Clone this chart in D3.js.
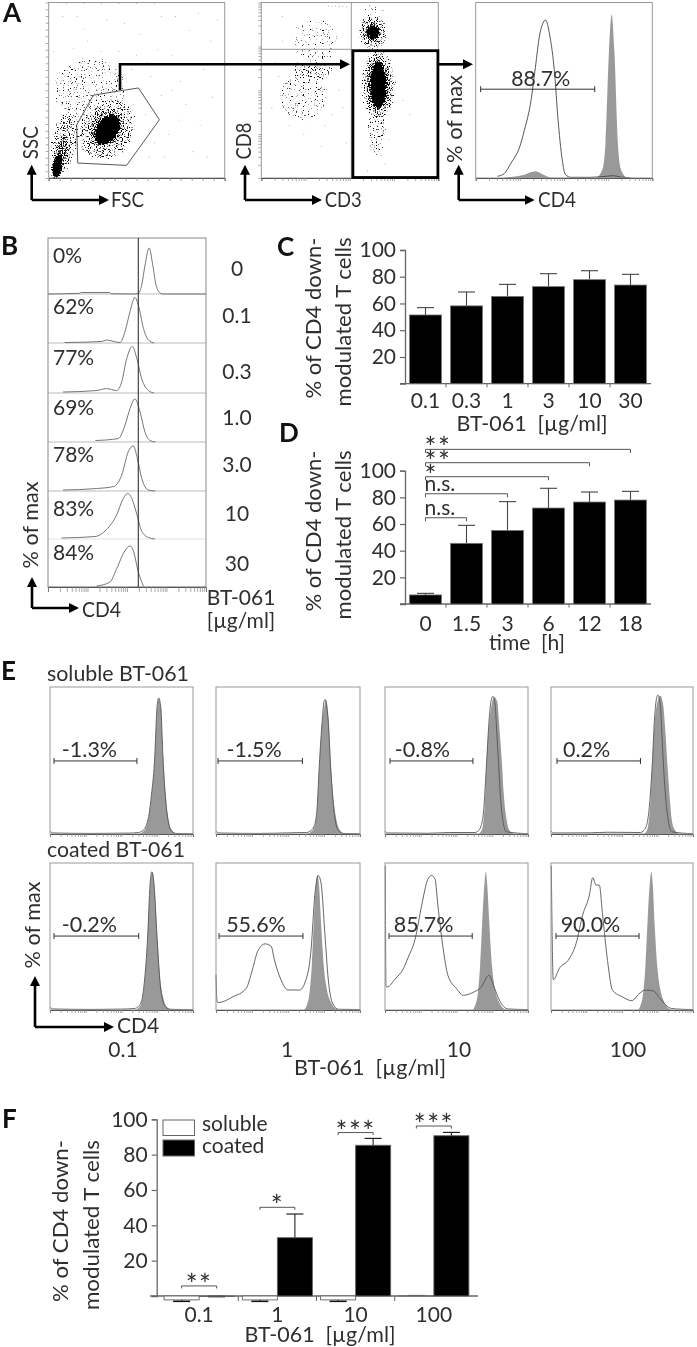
<!DOCTYPE html>
<html><head><meta charset="utf-8">
<script src="https://cdn.jsdelivr.net/npm/d3@7"></script>
<style>html,body{margin:0;background:#fff}svg{display:block}</style></head>
<body><script>
// ---------- bar data ----------
const doseC = ['0.1','0.3','1','3','10','30'];
const meanC = [51.4,58.2,65.3,72.6,77.8,73.8];
const topC  = [56.9,68.6,74.3,82.3,84.5,81.8];
const timeD = ['0','1.5','3','6','12','18'];
const meanD = [6.8,45.5,55.2,72,76.5,78];
const topD  = [8,59,76.8,86.8,84,84.5];
const bracketD = [[1,64.7,'n.s.'],[2,82.7,'n.s.'],[3,95.5,'*'],[4,106,'**'],[5,116,'**']];
const doseF = ['0.1','1','10','100'];
const solubleF = [-2.2,-2.2,-2.2,0.2];
const solubleErr = [-3,-3,-3,0.3];
const coatedF = [-0.2,33,85.3,90.7];
const coatedErr = [-0.3,46.4,89.2,92.6];
const bracketF = [[5.7,'**'],[50.2,'*'],[92.5,'***'],[96.2,'***']];
const yTicks = [20,40,60,80,100];
// ---------- panel A ----------
const gatePolygon = [[25.4,47.2],[40,49.6],[51,51.3],[62.9,33.2],[44.3,7.2],[16.5,8.5],[15.9,30.2]];
// cloud outlines [x%, y%, rx, ry, tilt, density]
const cloudsFSC = [[24,50,22,20,0,.36],[33,28,16,20,30,.43],[33,28,11,13,35,.52],[33.3,27.5,6.5,10,35,1],[9,20,8.5,19,10,.44],[7,14,5,13,12,.55],[5,7,3,8,10,1]];
const cloudsCD3 = [[63,83,9,11,0,.45],[63,83,6,7,0,.56],[63,83,4.2,4.5,0,1],[66,53,10.5,21,0,.46],[66,53,7.5,16,0,.58],[66,53,4.8,14,0,1],[65,26,6.5,15,0,.39],[63,96,8,4,0,.34],[29,61,13,7,0,.41],[24,46,15,15,0,.36],[30,78,14,15,0,.34]];
const sparseFSC = [[8,92],[14,74],[20,85],[26,66],[33,90],[40,72],[47,62],[52,82],[58,58],[64,92],[70,70],[75,55],[80,84],[88,62],[93,46],[6,60],[12,55],[18,64],[24,57],[32,60],[38,55],[44,57],[64,47],[70,50],[78,42],[86,30],[92,78],[96,90],[74,33],[82,15],[90,12],[60,20],[68,25],[50,70],[56,66],[30,72],[22,78],[43,88],[72,92],[85,94],[3,72],[16,92],[62,73],[48,42],[55,36],[66,12],[57,12],[10,99.5],[20,99.6],[30,99.4],[40,99.5],[50,99.6],[60,99.5]];
const sparseCD3 = [[38,98],[40,97.8],[42,98],[44,97.7],[46,98],[48,97.6],[12,78],[42,78],[10,58],[6,40],[16,30],[24,25],[36,30],[48,20],[60,4],[70,8],[68,13],[66,18],[72,22],[62,16],[74,62],[80,44],[84,36],[78,72],[8,66],[44,50],[46,40],[40,36],[14,46],[20,38],[34,18],[12,92]];
const gateA = [[2.8,50.6],[67.4,50.6]];
const histLineA = [[12.4,1],[16,2.4],[20,8.5],[25,18],[27.5,27],[31.3,44],[33.8,63],[36.3,82],[39.6,90],[41.8,82],[44.7,59.3],[46.5,34.8],[49,10.4],[50.8,1.9],[54,.4],[65,.4],[74,1],[78,1.3],[81.6,.6],[88,0]];
const histFillA = [[16,.2],[27.5,1.9],[33.8,3.8],[37,2.5],[42.7,.2],[68,.2],[71.7,4.7],[73.5,19.8],[75.5,73],[77,93.2],[78.5,73],[80.5,19.8],[82.3,4.7],[85.6,.2]];
// ---------- panel B ----------
const pctB = ['0%','62%','77%','69%','78%','83%','84%'];
const doseB = ['0','0.1','0.3','1.0','3.0','10','30'];
const histB = [
 [[0,0],[20,1.4],[21,3],[39,3],[40,.5],[54,0],[57.2,1.4],[59.3,18],[61.4,59],[64,94],[66.3,59],[68.4,18],[71,2],[73,0],[100,0]],
 [[10.6,1],[33.9,3],[37,6],[45.6,1],[48.7,23],[51.9,64],[55,93],[57.2,77],[60.4,30],[63.6,6],[67.2,0]],
 [[9.5,2],[30.7,5],[37,9],[43.4,5],[46.6,22],[49.8,70],[53.4,95],[56,73],[59.3,29],[63.6,5],[67.2,0]],
 [[30,3],[44.5,7],[48.7,34],[51.9,68],[55,88],[58.3,61],[61.4,20],[64.6,3],[67.8,0]],
 [[9.5,2],[30.7,5],[41.3,9],[46.6,32],[50.8,80],[54,92],[56.6,66],[59.3,26],[63.6,2],[67.8,0]],
 [[8.5,2],[29.7,5],[37,19],[43.4,49],[47.7,83],[50.4,93],[53,83],[56,53],[59.3,16],[63.6,3],[67.8,0]],
 [[30.7,2],[39.2,10],[43.4,37],[48.7,74],[51.9,84],[54,74],[57.2,30],[60.4,2]]
];
// ---------- panel E ----------
const labelsE = ['-1.3%','-1.5%','-0.8%','0.2%','-0.2%','55.6%','85.7%','90.0%'];
const gatesE = [[2.8,60.8,49.7],[1.4,60,49.7],[3.5,61.5,49.7],[4.2,63,49.7],[2.8,62,50.3],[2.1,60.4,50.3],[2.8,61,50.3],[3.5,62,50.3]];
const fillE = [
 [[62,0],[65,1.5],[67,4],[69,11],[71,26],[73,47],[75,86],[76,92],[77.5,86],[79,54],[81,25],[83,9],[85,3],[88,.5],[90,0]],
 [[63,0],[66,1.5],[68,4],[70,14],[71.7,46],[74,78],[75.5,88],[76.5,91],[78,80],[79.8,46],[82,20],[84,8],[86,2.5],[89,.4],[91,0]],
 [[65,0],[67,1.5],[68.5,6],[70,24],[71,48],[73,76],[75,90],[76.5,93],[78.5,90],[80,72],[81.8,48],[83,28],[85,10],[87,2.5],[90,0]],
 [[65,0],[67,1.5],[68.5,6],[70,22],[71.3,47],[73,76],[75,90],[77,94],[79,88],[80.5,70],[82,47],[83.5,26],[85,10],[87,3],[90,0]],
 [[60,0],[62,1.5],[64,5],[66,18],[68.2,47],[70,84],[71.7,94],[73,84],[75.2,47],[77,22],[79,9],[81,3],[84,.5],[86,0]],
 [[61,0],[63,3],[65,12],[66.5,30],[68,62],[69.5,86],[70.5,92],[71.5,86],[73,58],[75,28],[77,14],[80,5],[83,1],[85,0]],
 [[61.5,0],[63,3],[65,12],[66.5,30],[68,60],[69.5,85],[70.5,94],[71.5,85],[73,58],[75,28],[77,14],[80,5],[83,1],[85,0]],
 [[61.5,0],[63,3],[65,12],[66.5,30],[68,60],[69.5,85],[70.6,94],[71.7,85],[73,58],[75,28],[77,14],[80,5],[83,1],[85,0]]
];
const lineE = [
 [[0,2],[2,.7],[30,.4],[55,.6],[62,1],[65,2.5],[67,5],[69,12],[71,27],[73,48],[75,88],[76,92.5],[77.5,86],[79,52],[81,22],[83,7],[85,2],[88,.4],[100,.2]],
 [[0,2],[2,.7],[30,.4],[52,.8],[63,1],[66,2.5],[68,5],[70,15],[71.7,46],[74,80],[75,90],[75.8,91.5],[77,86],[78,76],[79.6,46],[81.5,20],[83.5,6],[86,1.5],[88,.4],[100,.2]],
 [[0,2],[2,.7],[30,.5],[45,1],[63,1],[65,2],[67,5],[69,16],[71,48],[73,80],[74.5,92],[75.5,93.6],[77,88],[78,72],[79.4,48],[81,22],[83,6],[85,1.5],[100,.2]],
 [[0,2],[2,.7],[28,.8],[40,1.2],[63,1],[65,2],[67,5],[69,16],[71.3,47],[73,80],[74.5,93],[75.3,94.5],[77,88],[78,70],[79.2,47],[81,22],[83,7],[85,1.5],[100,.2]],
 [[0,2],[2,.7],[30,.4],[50,.6],[59,1],[62,2.5],[64,6],[66,19],[68.2,48],[70,86],[71.2,94],[72.5,88],[75,47],[77,18],[79,6],[81,2],[84,.5],[100,.2]],
 [[0,24],[.7,6],[1.4,5],[11.8,9],[21,14.7],[24.6,25],[29,40],[34,45],[38.3,43.4],[40.6,34],[45.2,20.4],[50,13.6],[58,13.6],[64,26],[66,41],[68.7,79],[71,91.5],[73,86],[75.6,52],[78,20.4],[81,4.5],[85,.5],[100,.3]],
 [[.2,98],[.7,16],[1.6,15.7],[7,21],[12.8,28],[16.3,36],[21,48],[25.6,71],[30,89],[32.6,91.5],[35,89],[37,71],[40.7,41.6],[44,23.6],[50,14.6],[54.7,10],[61.6,12],[67.4,15.7],[72.6,23.6],[76.7,14.6],[80,6.7],[86,.7],[100,.3]],
 [[.2,98],[1.6,20.7],[6.3,29],[12,33.7],[17.6,45],[22.4,65],[27,78],[29.4,90],[31.7,85],[34,85],[36.3,65],[39.8,33.7],[43.3,13.5],[50.2,9],[57,6.3],[61.7,10.8],[66.4,13.5],[72,13],[76.6,7.9],[85,1],[92,.5],[100,.3]]
];
// ---------- layout, not data ----------
const W=697,H=1347,FONT="Lato, 'Noto Sans', sans-serif",INK='#2f2f2f',AX='#666',WT=400;
const svg=d3.select('body').append('svg').attr('width',W).attr('height',H).style('filter','blur(.35px)');
const defs=svg.append('defs');
const marker=defs.append('marker').attr('id','head').attr('viewBox','0 0 10 10').attr('refX',1).attr('refY',5)
 .attr('markerWidth',10).attr('markerHeight',10).attr('markerUnits','userSpaceOnUse').attr('orient','auto');
marker.append('path').attr('d','M0,0L10,5L0,10Z').attr('fill','#000');
const fl=defs.append('filter').attr('id','stipple').attr('filterUnits','userSpaceOnUse').attr('x',0).attr('y',0).attr('width',W).attr('height',240)
 .attr('color-interpolation-filters','sRGB');
fl.append('feGaussianBlur').attr('in','SourceAlpha').attr('stdDeviation',2.6).attr('result','b');
fl.append('feTurbulence').attr('type','fractalNoise').attr('baseFrequency',.85).attr('numOctaves',1).attr('seed',4).attr('result','t');
fl.append('feColorMatrix').attr('in','t').attr('type','matrix').attr('values','0 0 0 0 0  0 0 0 0 0  0 0 0 0 0  1 0 0 0 0').attr('result','n');
fl.append('feComposite').attr('in','b').attr('in2','n').attr('operator','arithmetic').attr('k1',0).attr('k2',1).attr('k3',1).attr('k4',-.98).attr('result','c');
const ft=fl.append('feComponentTransfer').attr('in','c');ft.append('feFuncA').attr('type','linear').attr('slope',9).attr('intercept',0);

function txt(x,y,s,o={}){const t=svg.append('text').attr('x',x).attr('y',y).text(s).attr('font-family',FONT)
 .attr('font-size',o.size||21).attr('fill',o.fill||INK).attr('text-anchor',o.anchor||'middle').attr('font-weight',o.weight||WT);
 if(o.rot)t.attr('transform',`rotate(${o.rot} ${x} ${y})`);
 if(o.width)t.attr('textLength',o.width).attr('lengthAdjust','spacingAndGlyphs');
 if(o.ls)t.attr('letter-spacing',o.ls);return t;}
function head(l){txt(l[1],l[2],l[0],{size:26,weight:700,anchor:'start',fill:'#111'});}
[['A',3,22],['B',1,255],['C',277,256],['D',279,442],['E',1,680],['F',2,1128]].forEach(head);
function arrow(pts){svg.append('path').attr('d',d3.line()(pts)).attr('fill','none').attr('stroke','#000').attr('stroke-width',2.6).attr('marker-end','url(#head)');}
function lArrow(cx,cy,top,right){arrow([[cx,cy],[cx,top+8]]);arrow([[cx,cy],[right-8,cy]]);}
function frame(x0,y0,x1,y1,c){svg.append('rect').attr('x',x0).attr('y',y0).attr('width',x1-x0).attr('height',y1-y0).attr('fill','none').attr('stroke',c||'#999').attr('stroke-width',1);}
function logTicks(x0,x1,y,dec,len){const s=d3.scaleLog().domain([1,Math.pow(10,dec)]).range([x0,x1]);
 const a=d3.axisBottom(s).tickValues(s.ticks()).tickSize(len||3).tickFormat('');
 const g=svg.append('g').attr('transform',`translate(0,${y})`).call(a);
 g.select('.domain').attr('stroke','#555');g.selectAll('line').attr('stroke','#888').attr('stroke-width',.7);}
function linTicks(x0,x1,y,n){const s=d3.scaleLinear([0,n],[x0,x1]);
 const g=svg.append('g').attr('transform',`translate(0,${y})`).call(d3.axisBottom(s).ticks(n).tickSize(3).tickFormat(''));
 g.select('.domain').attr('stroke','#555');g.selectAll('line').attr('stroke','#888').attr('stroke-width',.8);}
function leftTicks(x,y0,y1,log){const s=log?d3.scaleLog().domain([1,1e4]).range([y1,y0]):d3.scaleLinear([0,26],[y1,y0]);
 const g=svg.append('g').attr('transform',`translate(${x},0)`).call(d3.axisLeft(s).tickValues(log?s.ticks():d3.range(0,27)).tickSize(3).tickFormat(''));
 g.select('.domain').remove();g.selectAll('line').attr('stroke','#888').attr('stroke-width',.7);}
function scales(x0,y0,x1,y1){return{x:d3.scaleLinear([0,100],[x0,x1]),y:d3.scaleLinear([0,100],[y1,y0])};}
const lineOf=(s)=>d3.line().x(d=>s.x(d[0])).y(d=>s.y(d[1])).curve(d3.curveMonotoneX);
const areaOf=(s)=>d3.area().x(d=>s.x(d[0])).y0(s.y(0)).y1(d=>s.y(d[1])).curve(d3.curveMonotoneX);
function cloud(box,clouds,sparse,id){const s=scales(...box);
 defs.append('clipPath').attr('id',id).append('rect').attr('x',box[0]).attr('y',box[1]).attr('width',box[2]-box[0]).attr('height',box[3]-box[1]);
 const outer=svg.append('g').attr('clip-path',`url(#${id})`);
 // each outline is filtered on its own, so overlapping densities do not add up
 outer.selectAll('g').data(clouds).join('g').attr('filter','url(#stipple)').append('ellipse')
  .attr('rx',d=>s.x(d[2])-s.x(0)).attr('ry',d=>s.y(0)-s.y(d[3]))
  .attr('transform',d=>`translate(${s.x(d[0])},${s.y(d[1])}) rotate(${d[4]})`).attr('fill','#000').attr('fill-opacity',d=>d[5]);
 outer.selectAll('circle').data(sparse).join('circle').attr('cx',d=>s.x(d[0])).attr('cy',d=>s.y(d[1])).attr('r',.45).attr('fill','#666');
 return s;}

// ---- Panel A
const boxA1=[48.7,2.5,224.7,178],boxA2=[261.3,2.5,438.3,178],boxA3=[475.7,2.5,652.3,178];
const sA1=cloud(boxA1,cloudsFSC,sparseFSC,'c1');
frame(...boxA1);linTicks(48.7,224.7,178,16);leftTicks(48.7,2.5,178,false);
svg.append('path').attr('d',d3.line().x(d=>sA1.x(d[0])).y(d=>sA1.y(d[1])).curve(d3.curveLinearClosed)(gatePolygon)).attr('fill','none').attr('stroke','#444').attr('stroke-width',.9);
const sA2=cloud(boxA2,cloudsCD3,sparseCD3,'c2');
frame(...boxA2);logTicks(261.3,438.3,178,4);leftTicks(261.3,2.5,178,true);
svg.append('path').attr('d',d3.line()([[261.3,49.3],[351.3,49.3],[351.3,2.5]])).attr('fill','none').attr('stroke','#999');
svg.append('line').attr('x1',351.3).attr('x2',351.3).attr('y1',49).attr('y2',178).attr('stroke','#999');
svg.append('rect').attr('x',352.9).attr('y',50.7).attr('width',85).attr('height',126.8).attr('fill','none').attr('stroke','#000').attr('stroke-width',2.8);
const sA3=scales(...boxA3);
svg.append('path').attr('d',areaOf(sA3)(histFillA)).attr('fill','#999');
svg.append('path').attr('d',lineOf(sA3)(histLineA)).attr('fill','none').attr('stroke','#444').attr('stroke-width',.9);
frame(...boxA3);logTicks(475.7,652.3,178,4);
svg.append('path').attr('d',d3.line().x(d=>sA3.x(d[0])).y(d=>sA3.y(d[1]))(gateA)).attr('stroke','#333').attr('stroke-width',1);
gateA.forEach(d=>svg.append('line').attr('x1',sA3.x(d[0])).attr('x2',sA3.x(d[0])).attr('y1',sA3.y(d[1])-3).attr('y2',sA3.y(d[1])+3).attr('stroke','#333'));
txt(540.7,85.7,'88.7%',{size:22,width:59});
arrow([[120,90],[120,64.3],[341,64.3]]);arrow([[438,64.3],[464,64.3]]);
lArrow(31.7,200,165.7,108);lArrow(245,200,165.7,321);lArrow(458.7,200,165.7,533.7);
txt(38.3,142.7,'SSC',{rot:-90,size:21,width:33});txt(250.7,141,'CD8',{rot:-90,size:21,width:37});txt(462,119,'% of max',{rot:-90,size:21,width:88});
txt(111,207,'FSC',{anchor:'start',size:21,width:33});txt(324.7,207,'CD3',{anchor:'start',size:21,width:37});txt(538,207,'CD4',{anchor:'start',size:21,width:38});

// ---- Panel B
const bx0=48,bx1=206,bTop=238,bases=[294,343,393,442,491,539,587];
bases.forEach((b,i)=>{const s={x:d3.scaleLinear([0,100],[bx0,bx1]),y:d3.scaleLinear([0,100],[b,b-49])};
 svg.append('line').attr('x1',bx0).attr('x2',bx1).attr('y1',b).attr('y2',b).attr('stroke',i==5?'#ddd':'#aaa').attr('stroke-width',.8);
 svg.append('path').attr('d',lineOf(s)(histB[i])).attr('fill','none').attr('stroke','#666').attr('stroke-width',.9);});
frame(bx0,bTop,bx1,587,'#888');logTicks(bx0,bx1,587,4,5);
svg.append('line').attr('x1',138.3).attr('x2',138.3).attr('y1',bTop).attr('y2',587).attr('stroke','#333').attr('stroke-width',1.1);
const bLab=[263,314,365,415,462,516,560],bDose=[276,323,379,425,472,521,571];
pctB.forEach((t,i)=>txt(53,bLab[i],t,{anchor:'start'}));
doseB.forEach((t,i)=>txt(237,bDose[i],t));
lArrow(32,608,578,78);
txt(38,525,'% of max',{rot:-90,width:87});txt(82,617,'CD4',{anchor:'start',width:39});
txt(241,605,'BT-061');txt(241,628,'[µg/ml]');

// ---- Bar panels
function yAxis(y,x0){const g=svg.append('g').attr('transform',`translate(${x0},0)`).call(d3.axisLeft(y).tickValues(yTicks).tickSize(5).tickPadding(4));
 g.select('.domain').attr('stroke',AX).attr('stroke-width',1.3);g.selectAll('.tick line').attr('stroke',AX).attr('stroke-width',1.2);
 g.selectAll('text').attr('font-family',FONT).attr('font-size',21).attr('font-weight',WT).attr('fill',INK);return g;}
function yTitle(x1,x2,cy){txt(x1,cy,'% of CD4 down-',{rot:-90,width:161});txt(x2,cy+4,'modulated T cells',{rot:-90,width:169});}
function bars6(cat,mean,top,y0,y1,labY){
 const x=d3.scaleBand().domain(cat).range([405,651]).paddingInner(.22).paddingOuter(.11);
 const y=d3.scaleLinear([0,100],[y0,y1]);
 yAxis(y,405);
 svg.append('line').attr('x1',400).attr('x2',651).attr('y1',y0).attr('y2',y0).attr('stroke',AX).attr('stroke-width',1.3);
 cat.slice(1).forEach((c,i)=>{const sx=x(c)-x.step()*.11;svg.append('line').attr('x1',sx).attr('x2',sx).attr('y1',y0).attr('y2',y0+3.5).attr('stroke',AX);});
 cat.forEach((c,i)=>{const cx=x(c)+x.bandwidth()/2;
  svg.append('line').attr('x1',cx).attr('x2',cx).attr('y1',y(mean[i])).attr('y2',y(top[i])).attr('stroke','#444').attr('stroke-width',1.1);
  svg.append('line').attr('x1',cx-8.5).attr('x2',cx+8.5).attr('y1',y(top[i])).attr('y2',y(top[i])).attr('stroke','#444').attr('stroke-width',1.1);
  svg.append('rect').attr('x',x(c)).attr('y',y(mean[i])).attr('width',x.bandwidth()).attr('height',y0-y(mean[i])).attr('fill','#000').attr('stroke','#777').attr('stroke-width',.8);
  txt(cx,labY,c);});
 return {x,y};}
const C=bars6(doseC,meanC,topC,383.7,250,408);
yTitle(321,351,318);
txt(532,431,'BT-061  [µg/ml]',{width:151}).attr('xml:space','preserve');
const D=bars6(timeD,meanD,topD,604,470.7,631);
yTitle(321,351,531);
txt(527,650,'time  [h]').attr('xml:space','preserve');
const bc=i=>D.x(timeD[i])+D.x.bandwidth()/2;
bracketD.forEach(b=>{const xe=bc(b[0]),ya=D.y(b[1]);
 svg.append('path').attr('d',d3.line()([[bc(0),ya+3.5],[bc(0),ya],[xe,ya],[xe,ya+3.5]])).attr('fill','none').attr('stroke','#555').attr('stroke-width',1);
 if(b[2]=='n.s.')txt(bc(0)-1,ya-3,b[2],{anchor:'start'});
 else txt(bc(0)-1,ya+9,b[2],{anchor:'start',size:28,ls:1.5});});

// ---- Panel E
const colsE=[[50,193],[216,360],[385,528],[551,693]],rowsE=[[687,834],[863,1010]],nudgeE=[-6,-6,-9,-12,-7,-5,-7,-7];
labelsE.forEach((lab,i)=>{const [x0,x1]=colsE[i%4],[y0,y1]=rowsE[i>3?1:0],s=scales(x0,y0,x1,y1);
 svg.append('path').attr('d',areaOf(s)(fillE[i])).attr('fill','#999');
 svg.append('path').attr('d',lineOf(s)(lineE[i])).attr('fill','none').attr('stroke','#555').attr('stroke-width',.9);
 frame(x0,y0,x1,y1,'#999');logTicks(x0,x1,y1,4);
 const g=gatesE[i],gy=s.y(g[2]);
 svg.append('line').attr('x1',s.x(g[0])).attr('x2',s.x(g[1])).attr('y1',gy).attr('y2',gy).attr('stroke','#333');
 [g[0],g[1]].forEach(v=>svg.append('line').attr('x1',s.x(v)).attr('x2',s.x(v)).attr('y1',gy-3).attr('y2',gy+3).attr('stroke','#333'));
 txt((s.x(g[0])+s.x(g[1]))/2+nudgeE[i],gy-4,lab,{size:21.5});
});
txt(47,681,'soluble BT-061',{anchor:'start',width:142});
txt(47,857,'coated BT-061',{anchor:'start',width:138});
txt(40,925,'% of max',{rot:-90,width:87});
lArrow(35,1027,977,113);txt(117,1033,'CD4',{anchor:'start'});
[['0.1',123],['1',287],['10',459],['100',628]].forEach(d=>txt(d[1],1057,d[0]));
txt(370,1075,'BT-061  [µg/ml]',{width:152}).attr('xml:space','preserve');

// ---- Panel F
const fx=d3.scaleBand().domain(doseF).range([160,473]);
const fi=d3.scaleBand().domain(['soluble','coated']).range([0,fx.bandwidth()]).paddingOuter(.117);
const fy=d3.scaleLinear([0,100],[1296,1119.3]);
yAxis(fy,156.7);
svg.append('line').attr('x1',150).attr('x2',478).attr('y1',1296).attr('y2',1296).attr('stroke',AX).attr('stroke-width',1.3);
doseF.slice(1).forEach(d=>svg.append('line').attr('x1',fx(d)).attr('x2',fx(d)).attr('y1',1296).attr('y2',1301).attr('stroke',AX));
doseF.forEach((d,i)=>{
 const cs=fx(d)+fi('coated')+fi.bandwidth()/2;
 const ss=fx(d)+fi('soluble')+fi.bandwidth()/2;
 [[ss,solubleErr[i]],[cs,coatedErr[i]]].forEach(e=>{
  svg.append('line').attr('x1',e[0]).attr('x2',e[0]).attr('y1',fy(0)).attr('y2',fy(e[1])).attr('stroke','#222').attr('stroke-width',1.1);
  svg.append('line').attr('x1',e[0]-8.5).attr('x2',e[0]+8.5).attr('y1',fy(e[1])).attr('y2',fy(e[1])).attr('stroke','#111').attr('stroke-width',e[1]<0?1.6:1.1);});
 const rect=(k,v,fill)=>svg.append('rect').attr('x',fx(d)+fi(k)).attr('width',fi.bandwidth()).attr('y',Math.min(fy(v),fy(0))).attr('height',Math.abs(fy(v)-fy(0))).attr('fill',fill).attr('stroke','#666').attr('stroke-width',.9);
 rect('soluble',solubleF[i],'#fff');rect('coated',coatedF[i],'#000');
 txt(fx(d)+fx.bandwidth()/2,1322,d);
 const b=bracketF[i],ya=fy(b[0]);
 svg.append('path').attr('d',d3.line()([[ss,ya+2.5],[ss,ya],[cs,ya],[cs,ya+2.5]])).attr('fill','none').attr('stroke','#555').attr('stroke-width',1);
 txt((ss+cs)/2,ya+9,b[1],{size:28,ls:1.5});
});
svg.append('rect').attr('x',163).attr('y',1120).attr('width',31.5).attr('height',15.5).attr('fill','#fff').attr('stroke','#666').attr('stroke-width',1);
svg.append('rect').attr('x',163).attr('y',1140).attr('width',31.5).attr('height',16).attr('fill','#000').attr('stroke','#666').attr('stroke-width',1);
txt(202,1131,'soluble',{anchor:'start'});txt(202,1153,'coated',{anchor:'start'});
txt(68,1221,'% of CD4 down-',{rot:-90,width:162});txt(99,1225,'modulated T cells',{rot:-90,width:170});
txt(320,1342,'BT-061  [µg/ml]',{width:151}).attr('xml:space','preserve');
</script></body></html>
